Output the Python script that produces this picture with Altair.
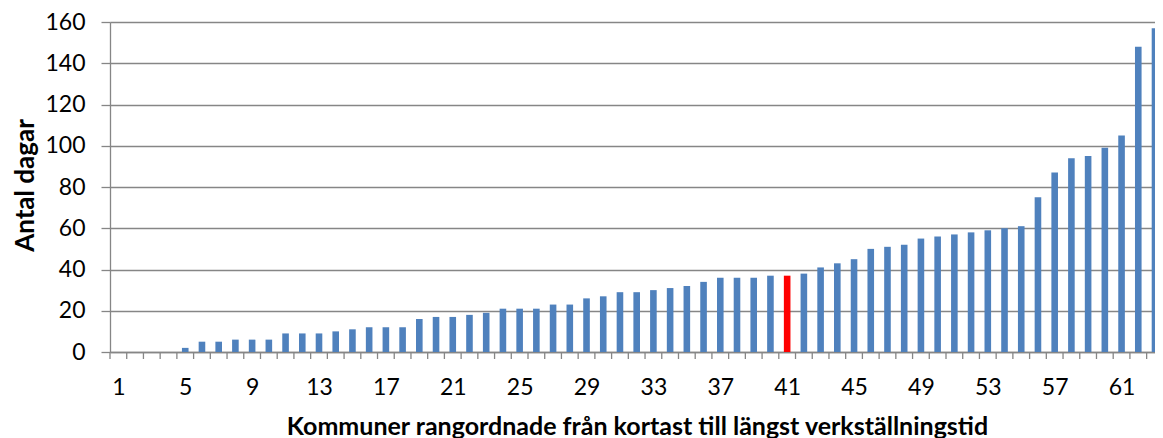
import altair as alt
import pandas as pd

ranks = list(range(1, 64))
days = [0, 0, 0, 0, 2, 5, 5, 6, 6, 6, 9, 9, 9, 10, 11, 12, 12, 12, 16, 17, 17,
        18, 19, 21, 21, 21, 23, 23, 26, 27, 29, 29, 30, 31, 32, 34, 36, 36, 36,
        37, 37, 38, 41, 43, 45, 50, 51, 52, 55, 56, 57, 58, 59, 60, 61, 75, 87,
        94, 95, 99, 105, 148, 157]
highlight_rank = 41
x_label_values = [1, 5, 9, 13, 17, 21, 25, 29, 33, 37, 41, 45, 49, 53, 57, 61]
y_tick_values = [0, 20, 40, 60, 80, 100, 120, 140, 160]

df = pd.DataFrame({"rank": ranks, "days": days})
bounds = pd.DataFrame({"b": [r - 0.5 for r in ranks]})

FONT = "Lato"
GRAY = "#868686"
PLOT_W = 1045
xscale = alt.Scale(domain=[0.5, 63.0], nice=False, zero=False, padding=0,
                   range=[0, PLOT_W])

bars = alt.Chart(df).mark_bar(size=6.6, clip=True).encode(
    x=alt.X("rank:Q", scale=xscale,
            axis=alt.Axis(values=x_label_values, ticks=False, tickSize=0, grid=False,
                          domainColor=GRAY, domainWidth=1.3, labelFont=FONT,
                          labelFontSize=23, labelColor="#000000", labelPadding=24,
                          labelFlush=False, labelOverlap=False,
                          title="Kommuner rangordnade från kortast till längst verkställningstid",
                          titleFont=FONT, titleFontSize=25, titleFontWeight="bold",
                          titleColor="#000000", titleBaseline="alphabetic", titleY=82,
                          titleX=527)),
    y=alt.Y("days:Q", scale=alt.Scale(domain=[0, 160], nice=False),
            axis=alt.Axis(values=y_tick_values, grid=True, gridColor=GRAY, gridWidth=1.3,
                          domainColor=GRAY, domainWidth=1.3, tickColor=GRAY, tickWidth=1.3,
                          tickSize=9, labelFont=FONT, labelFontSize=23,
                          labelColor="#000000", labelPadding=16,
                          title="Antal dagar", titleFont=FONT, titleFontSize=26,
                          titleFontWeight="bold", titleColor="#000000",
                          titleBaseline="middle", titleX=-85, titleY=163)),
    color=alt.condition(alt.datum.rank == highlight_rank,
                        alt.value("#FF0000"), alt.value("#4F81BD")),
)

ticks = alt.Chart(bounds).mark_rule(color=GRAY, strokeWidth=1.3).encode(
    x=alt.X("b:Q", scale=xscale),
    y=alt.value(330),
    y2=alt.value(337),
)

chart = alt.layer(bars, ticks).properties(
    width=PLOT_W, height=330,
    autosize=alt.AutoSizeParams(type="none"),
    padding={"left": 102, "top": 14, "right": 0, "bottom": 86},
    background="white",
).configure_view(stroke=None).configure_scale(continuousPadding=0)

chart.save("out.html", embed_options={"renderer": "svg", "actions": False})
